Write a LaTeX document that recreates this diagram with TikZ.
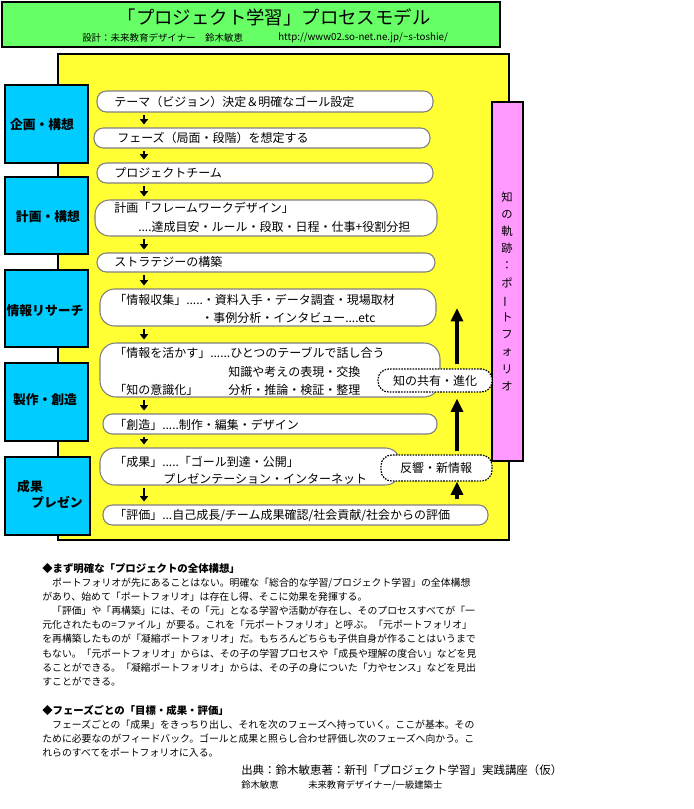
\documentclass[tikz,border=0pt]{standalone}
\usepackage{fontspec}
\usepackage{graphicx}
\setmainfont{Noto Sans CJK JP}
\usetikzlibrary{fit,arrows.meta}
\definecolor{headgreen}{RGB}{102,255,102}
\definecolor{boardyellow}{RGB}{255,255,51}
\definecolor{phaseblue}{RGB}{0,204,255}
\definecolor{trackpink}{RGB}{255,153,255}
\definecolor{stepgray}{RGB}{128,128,128}

\begin{document}
\begin{tikzpicture}[x=0.75pt,y=-0.75pt,
  phasebox/.style={draw=black,line width=2pt,fill=phaseblue,inner sep=0pt},
  stepbox/.style={draw=stepgray,line width=0.8pt,fill=white,rounded corners=7pt,inner sep=0pt},
  loopbox/.style={draw=black,dash pattern=on 1.2pt off 0.9pt,line width=0.9pt,fill=white,rounded corners=8pt,inner sep=0pt},
  txt/.style={anchor=west,inner sep=0pt,font=\fontsize{9}{11}\selectfont},
  phtxt/.style={inner sep=0pt,font=\fontsize{9.6}{11}\selectfont\bfseries},
  note/.style={anchor=north west,inner sep=0pt,align=left,font=\fontsize{7.4}{10.6}\selectfont},
  down/.style={-{Triangle[length=4pt,width=6pt]},line width=2pt,shorten <=2.2pt,shorten >=2.2pt},
  up/.style={-{Triangle[length=10pt,width=9pt]},line width=2.3pt}]
  \useasboundingbox (0,0) rectangle (693,809);

  % header
  \node[fit={(2,2) (500,47)},draw=black,line width=1.5pt,fill=headgreen,inner sep=0pt] (head) {};
  \node[inner sep=0pt,font=\fontsize{13.8}{16}\selectfont] (title) at (274,17) {「プロジェクト学習」プロセスモデル};
  \node[anchor=west,inner sep=0pt,font=\fontsize{7.1}{9}\selectfont] (design) at (82,37.5) {設計：未来教育デザイナー　鈴木敏恵};
  \node[anchor=west,inner sep=0pt,font=\fontsize{7.3}{9}\selectfont] (url) at (278,37.5) {http://www02.so-net.ne.jp/\textasciitilde s-toshie/};

  % board and portfolio track
  \node[fit={(58,54) (509,540)},draw=black,line width=2.2pt,fill=boardyellow,inner sep=0pt] (board) {};
  \node[fit={(492,102) (523,461)},draw=black,line width=2pt,fill=trackpink,inner sep=0pt] (track) {};
  \node[inner sep=0pt,align=center,font=\fontsize{8.5}{12.9}\selectfont] (tracktxt) at (507,291)
    {知\\の\\軌\\跡\\：\\ポ\\\rotatebox[origin=c]{90}{ー}\\ト\\フ\\ォ\\リ\\オ};

  % phases
  \node[phasebox,fit={(5,85) (88,163)}] (p1) {};
  \node[phtxt] (p1t) at (42,125) {企画・構想};
  \node[phasebox,fit={(5,177) (88,254)}] (p2) {};
  \node[phtxt] (p2t) at (48,217) {計画・構想};
  \node[phasebox,fit={(5,270) (88,347)}] (p3) {};
  \node[phtxt] (p3t) at (45,311) {情報リサーチ};
  \node[phasebox,fit={(5,363) (88,441)}] (p4) {};
  \node[phtxt] (p4t) at (45,400) {製作・創造};
  \node[phasebox,fit={(5,457) (90,535)}] (p5) {};
  \node[phtxt] (p5a) at (30,487) {成果};
  \node[phtxt] (p5b) at (57,502) {プレゼン};

  % steps
  \node[stepbox,fit={(97,91) (433,112)}] (s1) {};
  \node[txt] (s1t) at (114,102) {テーマ（ビジョン）決定＆明確なゴール設定};
  \node[stepbox,fit={(94,128) (430,148)}] (s2) {};
  \node[txt] (s2t) at (117,138) {フェーズ（局面・段階）を想定する};
  \node[stepbox,fit={(97,163) (433,183)}] (s3) {};
  \node[txt] (s3t) at (114,173) {プロジェクトチーム};
  \node[stepbox,rounded corners=11pt,fit={(95,200) (437,236)}] (s4) {};
  \node[txt] (s4a) at (114,208) {計画「フレームワークデザイン」};
  \node[txt] (s4b) at (138,227) {....達成目安・ルール・段取・日程・仕事+役割分担};
  \node[stepbox,fit={(97,253) (435,272)}] (s5) {};
  \node[txt] (s5t) at (114,262) {ストラテジーの構築};
  \node[stepbox,rounded corners=11pt,fit={(100,289) (436,326)}] (s6) {};
  \node[txt] (s6a) at (114,300) {「情報収集」.....・資料入手・データ調査・現場取材};
  \node[txt] (s6b) at (201,318) {・事例分析・インタビュー....etc};
  \node[stepbox,rounded corners=12pt,fit={(100,343) (440,397)}] (s7) {};
  \node[txt] (s7a) at (114,353) {「情報を活かす」......ひとつのテーブルで話し合う};
  \node[txt] (s7b) at (228,372) {知識や考えの表現・交換};
  \node[txt] (s7c) at (114,390) {「知の意識化」};
  \node[txt] (s7d) at (228,390) {分析・推論・検証・整理};
  \node[stepbox,fit={(103,414) (437,434)}] (s8) {};
  \node[txt] (s8t) at (114,425) {「創造」.....制作・編集・デザイン};
  \node[stepbox,rounded corners=11pt,fit={(100,448) (400,485)}] (s9) {};
  \node[txt] (s9a) at (114,462) {「成果」.....「ゴール到達・公開」};
  \node[txt] (s9b) at (163,479) {プレゼンテーション・インターネット};
  \node[stepbox,fit={(103,505) (488,525)}] (s10) {};
  \node[txt] (s10t) at (114,515) {「評価」...自己成長/チーム成果確認/社会貢献/社会からの評価};

  % feedback loop
  \node[loopbox,fit={(378,369) (492,392)}] (share) {};
  \node[inner sep=0pt,font=\fontsize{9}{11}\selectfont] (sharet) at (435,381) {知の共有・進化};
  \node[loopbox,fit={(381,455) (492,481)}] (echo) {};
  \node[inner sep=0pt,font=\fontsize{9}{11}\selectfont] (echot) at (436,468) {反響・新情報};

  \coordinate (lane) at (144,0);
  \coordinate (col) at (457,0);
  \coordinate (peak) at (457,308);
  \foreach \a/\b in {s1/s2,s2/s3,s3/s4,s4/s5,s5/s6,s6/s7,s7/s8,s8/s9,s9/s10}
    \draw[down] (\a.south -| lane) -- (\b.north -| lane);
  \draw[up,shorten <=3.75pt] (s10.north -| col) -- (echo.south -| col);
  \draw[up,shorten <=2.25pt,shorten >=4.5pt] (echo.north -| col) -- (share.south -| col);
  \draw[up,shorten <=3pt] (share.north -| col) -- (peak);

  % notes
  \node[note] (note1) at (42,563) {{\fontsize{7.8}{10.6}\selectfont\bfseries ◆まず明確な「プロジェクトの全体構想」}\\
    　ポートフォリオが先にあることはない。明確な「総合的な学習/プロジェクト学習」の全体構想\\
    があり、始めて「ポートフォリオ」は存在し得、そこに効果を発揮する。\\
    　「評価」や「再構築」には、その「元」となる学習や活動が存在し、そのプロセスすべてが「一\\
    元化されたもの=ファイル」が要る。これを「元ポートフォリオ」と呼ぶ。「元ポートフォリオ」\\
    を再構築したものが「凝縮ポートフォリオ」だ。もちろんどちらも子供自身が作ることはいうまで\\
    もない。「元ポートフォリオ」からは、その子の学習プロセスや「成長や理解の度合い」などを見\\
    ることができる。「凝縮ポートフォリオ」からは、その子の身についた「力やセンス」などを見出\\
    すことができる。};
  \node[note] (note2) at (42,705) {{\fontsize{7.8}{10.6}\selectfont\bfseries ◆フェーズごとの「目標・成果・評価」}\\
    　フェーズごとの「成果」をきっちり出し、それを次のフェーズへ持っていく。ここが基本。その\\
    ために必要なのがフィードバック。ゴールと成果と照らし合わせ評価し次のフェーズへ向かう。こ\\
    れらのすべてをポートフォリオに入る。};
  \node[anchor=west,inner sep=0pt,font=\fontsize{8.6}{10}\selectfont] (source) at (241,770) {出典：鈴木敏恵著：新刊「プロジェクト学習」実践講座（仮）};
  \node[anchor=west,inner sep=0pt,font=\fontsize{7}{9}\selectfont] (author) at (241,785) {鈴木敏恵};
  \node[anchor=west,inner sep=0pt,font=\fontsize{7}{9}\selectfont] (role) at (308,785) {未来教育デザイナー/一級建築士};
\end{tikzpicture}
\end{document}
